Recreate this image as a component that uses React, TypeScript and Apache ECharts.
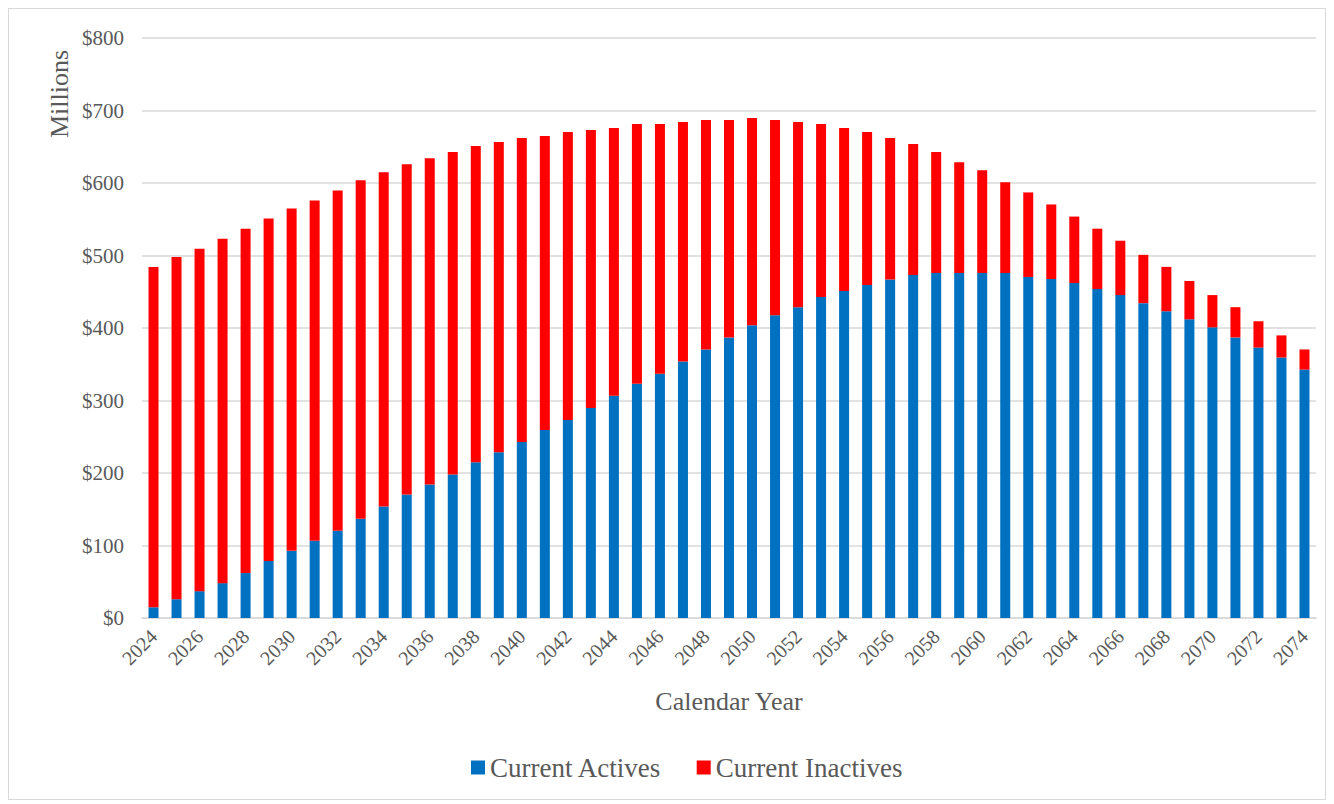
import React, { useEffect, useRef } from "react";
import * as echarts from "echarts";

const years: string[] = [];
for (let y = 2024; y <= 2074; y++) years.push(String(y));

const currentActives = [
  14.8, 25.9, 37.0, 48.1, 62.0, 78.7, 92.6, 106.5, 120.4, 137.0,
  153.7, 170.4, 184.3, 198.1, 214.8, 228.7, 242.6, 259.3, 273.1, 289.8,
  306.5, 323.1, 337.0, 353.7, 370.4, 387.0, 403.7, 417.6, 428.7, 442.6,
  450.9, 459.3, 467.0, 473.0, 476.0, 476.0, 476.0, 476.0, 470.4, 467.6,
  462.0, 453.7, 445.4, 434.3, 423.1, 412.0, 400.9, 387.0, 373.0, 359.3,
  342.6,
];

const currentInactives = [
  469.5, 472.2, 472.3, 475.0, 475.0, 472.2, 472.2, 469.4, 469.4, 466.7,
  461.1, 455.5, 450.0, 444.5, 436.1, 427.8, 419.4, 405.5, 397.3, 383.3,
  369.4, 358.4, 344.5, 330.6, 316.6, 300.0, 286.1, 269.4, 255.6, 238.9,
  225.0, 211.1, 195.0, 180.7, 166.6, 152.7, 141.6, 124.9, 116.6, 102.8,
  91.7, 83.3, 75.0, 66.6, 61.2, 52.8, 44.5, 41.7, 36.3, 30.5,
  27.8,
];

const yTicks = [0, 100, 200, 300, 400, 500, 600, 700, 800];

const FONT = "'Liberation Serif', 'Times New Roman', serif";
const GREY = "#595959";

export default function App() {
  const ref = useRef<HTMLDivElement>(null);
  useEffect(() => {
    if (!ref.current) return;
    const chart = echarts.init(ref.current, null, { renderer: "svg" });
    chart.setOption({
      animation: false,
      backgroundColor: "#ffffff",
      textStyle: { fontFamily: FONT },
      grid: { left: 133, right: 9, top: 29, bottom: 181, containLabel: false },
      xAxis: {
        type: "category",
        data: years,
        boundaryGap: true,
        axisLine: { show: true, lineStyle: { color: "#d9d9d9", width: 1.5 } },
        axisTick: { show: false },
        axisLabel: {
          interval: 1,
          rotate: 45,
          margin: 15,
          color: GREY,
          fontSize: 20,
          fontFamily: FONT,
        },
        name: "Calendar Year",
        nameLocation: "middle",
        nameGap: 70,
        nameTextStyle: { color: GREY, fontSize: 26, fontFamily: FONT },
      },
      yAxis: {
        type: "value",
        min: yTicks[0],
        max: yTicks[yTicks.length - 1],
        interval: 100,
        axisLine: { show: false },
        axisTick: { show: false },
        splitLine: { lineStyle: { color: "#d9d9d9", width: 1.5 } },
        axisLabel: {
          margin: 18,
          color: GREY,
          fontSize: 21,
          fontFamily: FONT,
          formatter: (v: number) => "$" + v,
        },
      },
      legend: {
        left: 457,
        top: 740,
        itemWidth: 14,
        itemHeight: 14,
        itemGap: 35,
        icon: "rect",
        textStyle: { color: GREY, fontSize: 27, fontFamily: FONT },
        data: ["Current Actives", "Current Inactives"],
      },
      graphic: [
        {
          type: "text",
          x: 50,
          y: 85,
          rotation: Math.PI / 2,
          style: {
            text: "Millions",
            fill: GREY,
            font: `26px ${FONT}`,
            textAlign: "center",
            textVerticalAlign: "middle",
          },
        },
      ],
      series: [
        {
          name: "Current Actives",
          type: "bar",
          stack: "total",
          barWidth: 10,
          itemStyle: { color: "#0070C0" },
          data: currentActives,
        },
        {
          name: "Current Inactives",
          type: "bar",
          stack: "total",
          barWidth: 10,
          itemStyle: { color: "#FF0000" },
          data: currentInactives,
        },
      ],
    });
    return () => chart.dispose();
  }, []);
  return (
    <div
      style={{
        width: 1318,
        height: 792,
        border: "1px solid #d9d9d9",
        boxSizing: "border-box",
      }}
    >
      <div ref={ref} style={{ width: 1316, height: 790 }} />
    </div>
  );
}
